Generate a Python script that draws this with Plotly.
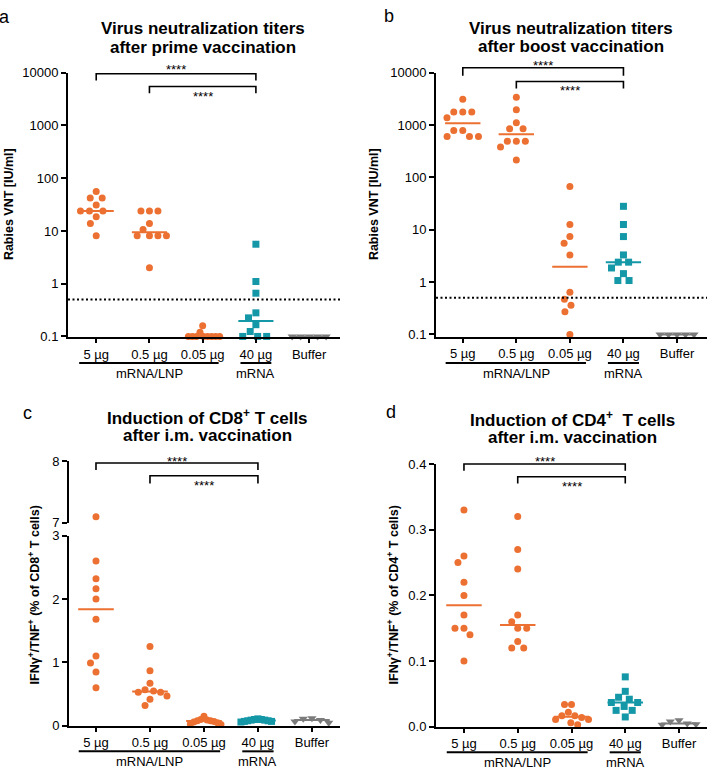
import numpy as np
import plotly.graph_objects as go

W, H = 708, 776
FONT = "Liberation Sans, Arial, Helvetica, sans-serif"
ORANGE = "#EC7031"
TEAL = "#1497A6"
GREY = "#7B7B7B"

CATEGORIES = ["5 µg", "0.5 µg", "0.05 µg", "40 µg", "Buffer"]
GROUP_LABELS = ["mRNA/LNP", "mRNA"]
STARS = "****"
LOD = 0.5  # detection threshold (IU/ml)

# ---- panel a: VNT after prime (IU/ml)
A_5UG = [42, 42, 56, 31, 24, 24, 24, 18.5, 13.8, 8.1]
A_05UG = [24, 24, 24, 13.8, 10.7, 8.1, 8.1, 8.1, 8.1, 2.0]
A_005UG = [0.12, 0.16, 0.1, 0.1, 0.1, 0.1, 0.1, 0.1, 0.1, 0.1]
A_40UG = [5.6, 1.1, 0.66, 0.28, 0.225, 0.167, 0.124, 0.1, 0.1, 0.1]
A_BUF = [0.1, 0.1, 0.1, 0.1, 0.1]

# ---- panel b: VNT after boost (IU/ml)
B_5UG = [3100, 1780, 1780, 1780, 1380, 785, 785, 605, 605, 605]
B_05UG = [3400, 1950, 1100, 850, 850, 490, 490, 490, 380, 215]
B_005UG = [67, 12.6, 7.4, 5.5, 3.3, 0.64, 0.47, 0.36, 0.27, 0.1]
B_40UG = [28, 12.6, 7.4, 3.3, 2.4, 2.4, 1.86, 1.45, 1.07, 1.07]
B_BUF = [0.1, 0.1, 0.1, 0.1, 0.1]

# ---- panel c: IFNg+/TNF+ % of CD8+ T cells
C_5UG = [7.1, 2.6, 2.32, 2.16, 2.0, 1.68, 1.10, 0.99, 0.85, 0.60]
C_05UG = [1.25, 0.87, 0.67, 0.57, 0.55, 0.53, 0.53, 0.47, 0.42, 0.32]
C_005UG = [0.15, 0.10, 0.09, 0.08, 0.08, 0.07, 0.06, 0.05, 0.03, 0.02]
C_40UG = [0.11, 0.10, 0.10, 0.09, 0.09, 0.08, 0.08, 0.07, 0.07, 0.06]
C_BUF = [0.12, 0.11, 0.09, 0.07, 0.05]

# ---- panel d: IFNg+/TNF+ % of CD4+ T cells
D_5UG = [0.33, 0.26, 0.25, 0.22, 0.20, 0.17, 0.15, 0.15, 0.14, 0.10]
D_05UG = [0.32, 0.27, 0.24, 0.17, 0.16, 0.15, 0.15, 0.13, 0.12, 0.12]
D_005UG = [0.034, 0.034, 0.022, 0.017, 0.017, 0.014, 0.011, 0.011, 0.006, 0.003]
D_40UG = [0.076, 0.054, 0.045, 0.042, 0.037, 0.037, 0.031, 0.025, 0.025, 0.015]
D_BUF = [0.010, 0.008, 0.005, 0.004, 0.003]

STYLE = [(ORANGE, "circle"), (ORANGE, "circle"), (ORANGE, "circle"),
         (TEAL, "square"), (GREY, "triangle-down")]

# ---------------- layout geometry (pixels) ----------------
PANELS = {
    "a": dict(x="x", y="y", xdom=(68, 340), xr=(-0.53, 4.58),
              ydom=(67, 337), yr=(-1.02, 4.0), log=True,
              data=[A_5UG, A_05UG, A_005UG, A_40UG, A_BUF]),
    "b": dict(x="x2", y="y2", xdom=(436, 707), xr=(-0.5, 4.56),
              ydom=(67, 336), yr=(-1.04, 4.0), log=True,
              data=[B_5UG, B_05UG, B_005UG, B_40UG, B_BUF]),
    "c": dict(x="x3", y="y3", ytop="y4", xdom=(69, 340), xr=(-0.5, 4.52),
              ydom=(539, 733), yr=(0, 3), ydom_top=(463, 526), yr_top=(7, 8),
              log=False, data=[C_5UG, C_05UG, C_005UG, C_40UG, C_BUF]),
    "d": dict(x="x4", y="y5", xdom=(436, 707), xr=(-0.52, 4.52),
              ydom=(466, 734), yr=(0, 0.4), log=False,
              data=[D_5UG, D_05UG, D_005UG, D_40UG, D_BUF]),
}


def px(v):
    return v / W


def py(v):
    return 1 - v / H


def val_to_px(p, v):
    if p.get("ytop") and v > 5:
        t, b = p["ydom_top"]
        lo, hi = p["yr_top"]
        return t + (hi - v) / (hi - lo) * (b - t)
    t, b = p["ydom"]
    lo, hi = p["yr"]
    vv = np.log10(v) if p["log"] else v
    return t + (hi - vv) / (hi - lo) * (b - t)


def swarm(ys, d=9.0, wmax=17.0):
    order = sorted(range(len(ys)), key=lambda i: ys[i])
    placed, offs = [], [0.0] * len(ys)
    for i in order:
        y = ys[i]
        cands, ivs = [0.0], []
        for xj, yj in placed:
            dy = abs(y - yj)
            if dy < d:
                dx = (d * d - dy * dy) ** 0.5
                ivs.append((xj - dx, xj + dx))
                cands += [xj - dx, xj + dx]
        cands.sort(key=lambda c: (round(abs(c), 6), c))
        for c in cands:
            if all(not (a + 1e-6 < c < b - 1e-6) for a, b in ivs):
                offs[i] = c
                break
        placed.append((offs[i], y))
    m = max(abs(o) for o in offs)
    if m > wmax:
        offs = [o * wmax / m for o in offs]
    return offs


fig = go.Figure()
shapes, annotations = [], []

for key, p in PANELS.items():
    ppu = (p["xdom"][1] - p["xdom"][0]) / (p["xr"][1] - p["xr"][0])
    for gi, vals in enumerate(p["data"]):
        color, sym = STYLE[gi]
        ys = [val_to_px(p, v) for v in vals]
        offs = swarm(ys)
        xs = [gi + o / ppu for o in offs]
        msize = 8 if sym == "triangle-down" else 7
        low = [(x, v) for x, v in zip(xs, vals) if not (p.get("ytop") and v > 5)]
        high = [(x, v) for x, v in zip(xs, vals) if p.get("ytop") and v > 5]
        for pts, yax in ((low, p["y"]), (high, p.get("ytop"))):
            if not pts:
                continue
            fig.add_trace(go.Scatter(
                x=[q[0] for q in pts], y=[q[1] for q in pts], mode="markers",
                xaxis=p["x"], yaxis=yax, cliponaxis=False, showlegend=False,
                marker=dict(color=color, symbol=sym, size=msize, line=dict(width=0))))
        med = float(np.median(vals))
        fig.add_trace(go.Scatter(
            x=[gi - 0.33, gi + 0.33], y=[med, med], mode="lines",
            xaxis=p["x"], yaxis=p["y"], cliponaxis=False, showlegend=False,
            line=dict(color=color, width=2)))
    if p["log"]:
        fig.add_trace(go.Scatter(
            x=list(p["xr"]), y=[LOD, LOD], mode="lines", xaxis=p["x"], yaxis=p["y"],
            showlegend=False, line=dict(color="black", width=2, dash="2px,2.5px")))

# ---------------- axes ----------------
AX = dict(showgrid=False, zeroline=False, showline=True, linecolor="black",
          linewidth=2, ticks="outside", tickwidth=2, tickcolor="black",
          tickfont=dict(family=FONT, size=13, color="black"))
LOG_TICKS = [0.1, 1, 10, 100, 1000, 10000]
LOG_TEXT = ["0.1", "1", "10", "100", "1000", "10000"]

lay = {}
for key, p in PANELS.items():
    xn = "xaxis" + p["x"][1:]
    yn = "yaxis" + p["y"][1:]
    lay[xn] = dict(AX, domain=[px(p["xdom"][0]), px(p["xdom"][1])], range=list(p["xr"]),
                   anchor=p["y"], tickvals=list(range(5)), ticktext=CATEGORIES, ticklen=4)
    yd = dict(AX, domain=[py(p["ydom"][1]), py(p["ydom"][0])], range=list(p["yr"]),
              anchor=p["x"], ticklen=5)
    if p["log"]:
        yd.update(type="log", tickvals=LOG_TICKS, ticktext=LOG_TEXT)
    elif key == "c":
        yd.update(tickvals=[0, 1, 2, 3])
    else:
        yd.update(tickvals=[0, 0.1, 0.2, 0.3, 0.4], tickformat=".1f")
    lay[yn] = yd
    if p.get("ytop"):
        lay["yaxis" + p["ytop"][1:]] = dict(
            AX, domain=[py(p["ydom_top"][1]), py(p["ydom_top"][0])],
            range=list(p["yr_top"]), anchor=p["x"], ticklen=5, tickvals=[7, 8])

# ---------------- brackets, groups, titles ----------------
BRACKETS = {
    "a": (68, 75, 64, 81, 88, 91),
    "b": (62, 70, 60, 76, 83, 85),
    "c": (465, 472, 463, 478, 486, 488),
    "d": (466, 473, 463, 479, 486, 489),
}
GROUP_Y = {"a": (363, 374), "b": (363, 374), "c": (759, 769), "d": (760, 770)}
TITLES = {
    "a": ("Virus neutralization titers", "after prime vaccination", 203, 22, 41),
    "b": ("Virus neutralization titers", "after boost vaccination", 571, 22, 40),
    "c": ("Induction of CD8<sup>+</sup> T cells", "after i.m. vaccination", 207, 418, 437),
    "d": ("Induction of CD4<sup>+</sup>\u00a0 T cells", "after i.m. vaccination", 572, 420, 439),
}
LETTERS = {"a": (4, 10), "b": (389, 9), "c": (27, 414), "d": (391, 413)}
YTITLES = {
    "a": ("Rabies VNT [IU/ml]", 9, 201),
    "b": ("Rabies VNT [IU/ml]", 374, 201),
    "c": ("IFNγ<sup>+</sup>/TNF<sup>+</sup> (% of CD8<sup>+</sup> T cells)", 34, 600),
    "d": ("IFNγ<sup>+</sup>/TNF<sup>+</sup> (% of CD4<sup>+</sup> T cells)", 393, 600),
}

for key, p in PANELS.items():
    xr = p["x"]
    l1, t1, s1, l2, t2, s2 = BRACKETS[key]
    for (c0, c1, yl, yt, ys, sx) in ((0, 3, l1, t1, s1, 1.5), (1, 3, l2, t2, s2, 2.0)):
        shapes.append(dict(type="path", xref=xr, yref="paper",
                           path=f"M {c0},{py(yt)} L {c0},{py(yl)} L {c1},{py(yl)} L {c1},{py(yt)}",
                           line=dict(color="black", width=1.6)))
        annotations.append(dict(text=STARS, x=sx, y=py(ys), xref=xr, yref="paper",
                                showarrow=False, xanchor="center", yanchor="middle",
                                font=dict(family=FONT, size=13, color="black")))
    gl, gt = GROUP_Y[key]
    for (c0, c1, lab) in ((-0.32, 2.3, GROUP_LABELS[0]), (2.71, 3.29, GROUP_LABELS[1])):
        shapes.append(dict(type="line", xref=xr, yref="paper", x0=c0, x1=c1,
                           y0=py(gl), y1=py(gl), line=dict(color="black", width=2)))
        annotations.append(dict(text=lab, x=(c0 + c1) / 2 if lab == "mRNA" else 1,
                                y=py(gt), xref=xr, yref="paper", showarrow=False,
                                xanchor="center", yanchor="middle",
                                font=dict(family=FONT, size=13, color="black")))
    t1_, t2_, tx, ty1, ty2 = TITLES[key]
    for txt, yy in ((t1_, ty1), (t2_, ty2)):
        annotations.append(dict(text=f"<b>{txt}</b>", x=px(tx), y=py(yy), xref="paper",
                                yref="paper", showarrow=False, xanchor="center",
                                yanchor="middle",
                                font=dict(family=FONT, size=17, color="black")))
    lx, ly = LETTERS[key]
    annotations.append(dict(text=key, x=px(lx), y=py(ly), xref="paper", yref="paper",
                            showarrow=False, xanchor="center", yanchor="middle",
                            font=dict(family=FONT, size=18, color="black")))
    yt_txt, yx, yy = YTITLES[key]
    annotations.append(dict(text=f"<b>{yt_txt}</b>", x=px(yx), y=py(yy), xref="paper",
                            yref="paper", showarrow=False, textangle=-90,
                            xanchor="center", yanchor="middle",
                            font=dict(family=FONT, size=12.5, color="black")))

fig.update_layout(width=W, height=H, margin=dict(l=0, r=0, t=0, b=0),
                  paper_bgcolor="white", plot_bgcolor="rgba(0,0,0,0)",
                  showlegend=False, shapes=shapes, annotations=annotations,
                  font=dict(family=FONT, color="black"), **lay)

fig.write_html("out.html", config={"displayModeBar": False},
               post_script="document.body.style.margin='0px';document.body.style.overflow='hidden';")
